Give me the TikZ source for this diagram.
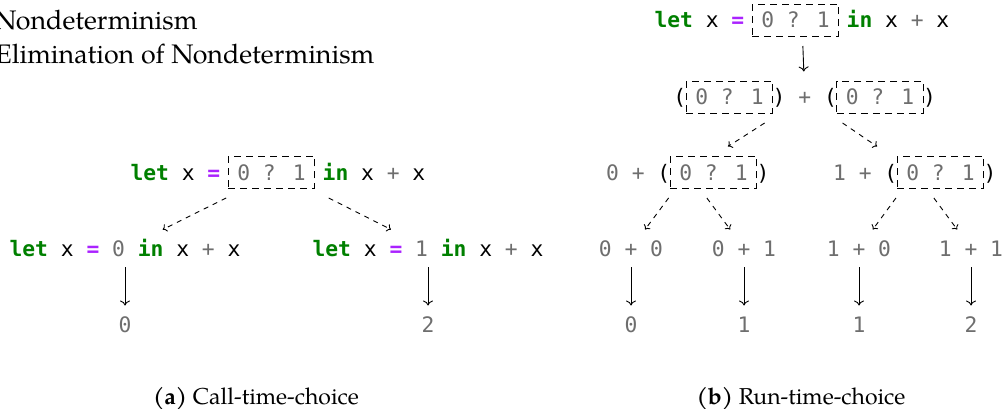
\documentclass[tikz,border=0pt]{standalone}
\usepackage{fontspec}
\setmainfont{TeX Gyre Pagella}
\newfontfamily\codefont{DejaVu Sans Mono}
\usetikzlibrary{positioning, fit, arrows.meta}
\definecolor{kwgreen}{RGB}{0,128,0}
\definecolor{oppurple}{RGB}{170,34,255}
\definecolor{codegray}{RGB}{110,110,110}
\newcommand{\kw}[1]{\textcolor{kwgreen}{\bfseries #1}}
\newcommand{\eqs}{\textcolor{oppurple}{\bfseries =}}
\newcommand{\lit}[1]{\textcolor{codegray}{#1}}
\tikzset{
  code/.style={font=\codefont\fontsize{21.3pt}{25pt}\selectfont, inner sep=0pt, outer sep=0pt, text height=15.5pt, text depth=0pt},
  term/.style={code, anchor=base, outer ysep=11pt},
  choice/.style={code, anchor=base, draw, dash pattern=on 7pt off 5pt, text=codegray, inner xsep=9pt, inner ysep=8pt},
  group/.style={inner sep=0pt, outer ysep=10pt},
  eval/.style={-{To[length=5pt,width=10pt]}},
  pick/.style={dash pattern=on 5pt off 5pt, -{To[length=4pt,width=8pt]}},
  heading/.style={anchor=base west, inner sep=0pt, font=\fontsize{26.8pt}{31pt}\selectfont},
  caption/.style={anchor=base, inner sep=0pt, font=\fontsize{23pt}{27pt}\selectfont}
}

\begin{document}
\begin{tikzpicture}[x=1pt, y=-1pt, line width=0.9pt]
\useasboundingbox (0,0) rectangle (1006,409);
\node[heading] (hd1) at (-6,30) {Nondeterminism};
\node[heading] (hd2) at (-5,64) {Elimination of Nondeterminism};

% (a) call-time choice
\node[choice] (a0c) at (271.5,180) {0 ? 1};
\node[code, left=8pt of a0c] (a0l) {\kw{let} x \eqs};
\node[code, right=8pt of a0c] (a0r) {\kw{in} x \lit{+} x};
\node[group, fit=(a0l)(a0c)(a0r)] (a0) {};
\node[term] (a1) at (125,256) {\kw{let} x \eqs{} \lit{0} \kw{in} x \lit{+} x};
\node[term] (a2) at (428,256) {\kw{let} x \eqs{} \lit{1} \kw{in} x \lit{+} x};
\node[term] (a3) at (125,332) {\lit{0}};
\node[term] (a4) at (428,332) {\lit{2}};
\draw[pick] (a0) -- (a1);
\draw[pick] (a0) -- (a2);
\draw[eval] (a1) -- (a3);
\draw[eval] (a2) -- (a4);
\node[caption] (capa) at (256,404) {\textbf{(a)} Call-time-choice};

% (b) run-time choice
\node[choice] (b0c) at (795.5,28) {0 ? 1};
\node[code, left=8pt of b0c] (b0l) {\kw{let} x \eqs};
\node[code, right=8pt of b0c] (b0r) {\kw{in} x \lit{+} x};
\node[group, fit=(b0l)(b0c)(b0r)] (b0) {};
\node[choice] (b1c) at (729.5,105) {0 ? 1};
\node[code, left=0pt of b1c] (b1l) {(};
\node[code, right=0pt of b1c] (b1m) {) \lit{+} (};
\node[choice, right=0pt of b1m] (b1d) {0 ? 1};
\node[code, right=0pt of b1d] (b1r) {)};
\node[group, fit=(b1l)(b1c)(b1r)] (b1) {};
\node[choice] (b2c) at (713.5,180) {0 ? 1};
\node[code, left=0pt of b2c] (b2l) {\lit{0 +} (};
\node[code, right=0pt of b2c] (b2r) {)};
\node[group, fit=(b2l)(b2c)(b2r)] (b2) {};
\node[choice] (b3c) at (940.5,180) {0 ? 1};
\node[code, left=0pt of b3c] (b3l) {\lit{1 +} (};
\node[code, right=0pt of b3c] (b3r) {)};
\node[group, fit=(b3l)(b3c)(b3r)] (b3) {};
\node[term] (b4) at (631,256) {\lit{0 + 0}};
\node[term] (b5) at (744,256) {\lit{0 + 1}};
\node[term] (b6) at (859,256) {\lit{1 + 0}};
\node[term] (b7) at (971,256) {\lit{1 + 1}};
\node[term] (b8) at (631,332) {\lit{0}};
\node[term] (b9) at (744,332) {\lit{1}};
\node[term] (b10) at (859,332) {\lit{1}};
\node[term] (b11) at (971,332) {\lit{2}};
\draw[eval] (b0) -- (b1);
\draw[pick] (b1) -- (b2);
\draw[pick] (b1) -- (b3);
\draw[pick] (b2) -- (b4);
\draw[pick] (b2) -- (b5);
\draw[pick] (b3) -- (b6);
\draw[pick] (b3) -- (b7);
\draw[eval] (b4) -- (b8);
\draw[eval] (b5) -- (b9);
\draw[eval] (b6) -- (b10);
\draw[eval] (b7) -- (b11);
\node[caption] (capb) at (801,404) {\textbf{(b)} Run-time-choice};
\end{tikzpicture}
\end{document}
